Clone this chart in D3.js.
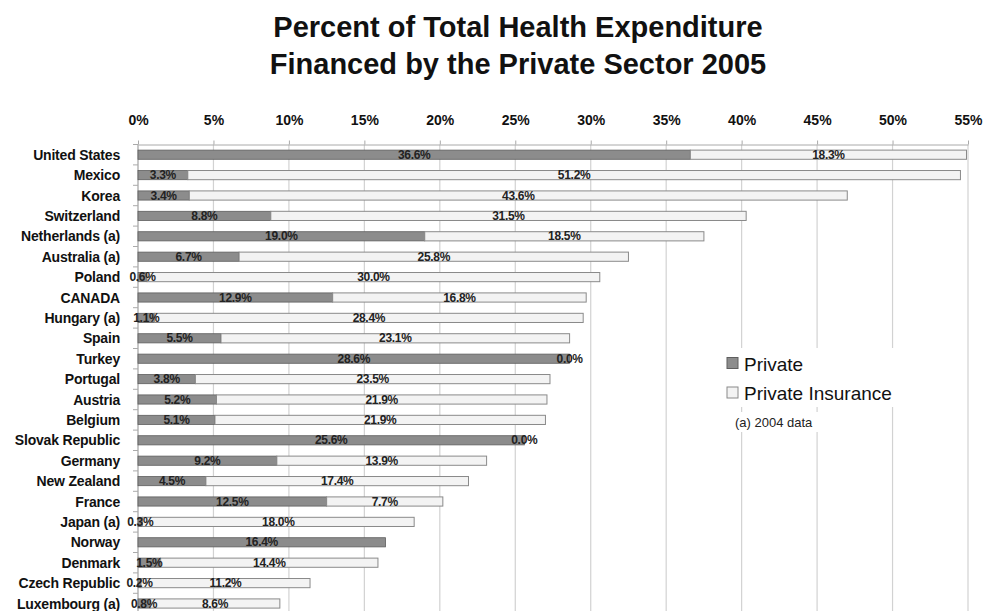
<!DOCTYPE html>
<html>
<head>
<meta charset="utf-8">
<script src="https://cdn.jsdelivr.net/npm/d3@7"></script>
<style>
  html, body { margin: 0; padding: 0; background: #fff; }
  svg { display: block; font-family: "Liberation Sans", Arial, Helvetica, sans-serif; }
</style>
</head>
<body>
<svg id="chart" width="985" height="611"></svg>
<script>
const countries = ["United States","Mexico","Korea","Switzerland","Netherlands (a)","Australia (a)","Poland","CANADA","Hungary (a)","Spain","Turkey","Portugal","Austria","Belgium","Slovak Republic","Germany","New Zealand","France","Japan (a)","Norway","Denmark","Czech Republic","Luxembourg (a)"];
const privateVals = [36.6,3.3,3.4,8.8,19.0,6.7,0.6,12.9,1.1,5.5,28.6,3.8,5.2,5.1,25.6,9.2,4.5,12.5,0.3,16.4,1.5,0.2,0.8];
const insuranceVals = [18.3,51.2,43.6,31.5,18.5,25.8,30.0,16.8,28.4,23.1,0.0,23.5,21.9,21.9,0.0,13.9,17.4,7.7,18.0,null,14.4,11.2,8.6];
const tickVals = [0,5,10,15,20,25,30,35,40,45,50,55];
const seriesNames = ["Private","Private Insurance"];
const titleLines = ["Percent of Total Health Expenditure","Financed by the Private Sector 2005"];
const noteText = "(a) 2004 data";

const svg = d3.select("#chart");
const plotLeft = 138, plotRight = 968, plotTop = 144.5;
const step = 20.4;
const x = d3.scaleLinear().domain([0,55]).range([plotLeft,plotRight]);
const y = d3.scaleBand().domain(countries).range([plotTop, plotTop + step*countries.length]).paddingInner(0.55).paddingOuter(0.275);

const colPriv = "#8c8c8c", colPrivStroke = "#5e5e5e";
const colIns = "#f3f3f3", colInsStroke = "#8a8a8a";

// title
svg.append("g").selectAll("text").data(titleLines).join("text")
  .attr("x", 518).attr("y", (d,i) => 37 + i*36.5)
  .attr("text-anchor","middle").attr("font-size", 29).attr("font-weight","bold").attr("fill","#111")
  .text(d => d);

// gridlines
svg.append("g").selectAll("line").data(tickVals).join("line")
  .attr("x1", d => x(d)).attr("x2", d => x(d))
  .attr("y1", plotTop).attr("y2", 611)
  .attr("stroke", "#d2d2d2").attr("stroke-width", 1.2);

// top axis
const xAxis = d3.axisTop(x).tickValues(tickVals).tickFormat(d => d + "%").tickSize(4).tickSizeOuter(0);
const gx = svg.append("g").attr("transform", `translate(0,${plotTop})`).call(xAxis);
gx.select(".domain").attr("stroke", "#aaa");
gx.selectAll(".tick line").attr("stroke", "#aaa");
gx.selectAll(".tick text").attr("font-size", 14).attr("font-weight","bold").attr("fill","#111")
  .attr("font-family", '"Liberation Sans", Arial, sans-serif').attr("y", -20).attr("dy", 0);

// left axis line + boundary ticks
svg.append("line").attr("x1", plotLeft).attr("x2", plotLeft).attr("y1", plotTop).attr("y2", 611).attr("stroke", "#aaa");
const bounds = d3.range(countries.length + 1).map(i => y.range()[0] + i*y.step());
svg.append("g").selectAll("line").data(bounds).join("line")
  .attr("x1", plotLeft - 5).attr("x2", plotLeft).attr("y1", d => d).attr("y2", d => d).attr("stroke", "#aaa");

// category labels
svg.append("g").selectAll("text").data(countries).join("text")
  .attr("x", 120).attr("y", d => y(d) + y.bandwidth()/2 + 5)
  .attr("text-anchor","end").attr("font-size", 14).attr("font-weight","bold").attr("fill","#111")
  .attr("letter-spacing", -0.2)
  .text(d => d);

const rows = countries.map((c,i) => ({c, p: privateVals[i], ins: insuranceVals[i]}));

// private bars
svg.append("g").selectAll("rect").data(rows).join("rect")
  .attr("x", x(0)).attr("y", d => y(d.c))
  .attr("width", d => x(d.p) - x(0)).attr("height", y.bandwidth())
  .attr("fill", colPriv).attr("stroke", colPrivStroke).attr("stroke-width", 0.8);

// insurance bars
svg.append("g").selectAll("rect").data(rows.filter(d => d.ins)).join("rect")
  .attr("x", d => x(d.p)).attr("y", d => y(d.c))
  .attr("width", d => x(d.p + d.ins) - x(d.p)).attr("height", y.bandwidth())
  .attr("fill", colIns).attr("stroke", colInsStroke).attr("stroke-width", 1);

// labels
const lab = svg.append("g").attr("font-size", 12).attr("font-weight","bold").attr("fill","#222").attr("text-anchor","middle").attr("letter-spacing", -0.3);
lab.selectAll("text.p").data(rows).join("text").attr("class","p")
  .attr("x", d => x(d.p/2)).attr("y", d => y(d.c) + y.bandwidth()/2 + 4)
  .text(d => d.p.toFixed(1) + "%");
lab.selectAll("text.i").data(rows.filter(d => d.ins !== null)).join("text").attr("class","i")
  .attr("x", d => x(d.p + d.ins/2)).attr("y", d => y(d.c) + y.bandwidth()/2 + 4)
  .text(d => d.ins.toFixed(1) + "%");

// legend
const lg = svg.append("g");
lg.append("rect").attr("x", 720).attr("y", 348).attr("width", 190).attr("height", 59).attr("fill", "#fff");
lg.append("rect").attr("x", 732).attr("y", 412).attr("width", 92).attr("height", 20).attr("fill", "#fff");
const fills = [[colPriv, colPrivStroke],[colIns, colInsStroke]];
seriesNames.forEach((s,i) => {
  lg.append("rect").attr("x", 727).attr("y", 357.5 + i*29.5).attr("width", 11).attr("height", 11)
    .attr("fill", fills[i][0]).attr("stroke", fills[i][1]).attr("stroke-width", 1);
  lg.append("text").attr("x", 744).attr("y", 370.5 + i*29.5).attr("font-size", 19).attr("fill","#111").text(s);
});
lg.append("text").attr("x", 735).attr("y", 427).attr("font-size", 13).attr("fill","#222").text(noteText);
</script>
</body>
</html>
